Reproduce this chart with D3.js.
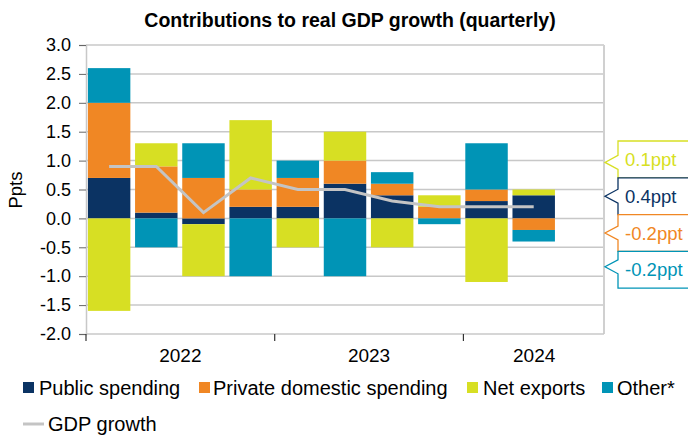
<!DOCTYPE html>
<html><head><meta charset="utf-8">
<script src="https://cdn.jsdelivr.net/npm/d3@7"></script>
<style>
html,body{margin:0;padding:0;background:#fff;}
svg{display:block;font-family:"Liberation Sans",Arial,Helvetica,sans-serif;}
</style></head>
<body>
<svg id="chart" width="688" height="436"></svg>
<script>
// ---- data ----
const quarters = ["2022 Q1","2022 Q2","2022 Q3","2022 Q4","2023 Q1","2023 Q2","2023 Q3","2023 Q4","2024 Q1","2024 Q2","2024 Q3"];
const years = ["2022","2023","2024"];
const yearQuarterCounts = [4, 4, 3];
const publicSpending  = [0.7, 0.1, -0.1, 0.2, 0.2, 0.6, 0.4, 0.0, 0.3, 0.4];
const privateSpending = [1.3, 0.8, 0.7, 0.3, 0.5, 0.4, 0.2, 0.2, 0.2, -0.2];
const netExports      = [-1.6, 0.4, -0.9, 1.2, -0.5, 0.5, -0.5, 0.2, -1.1, 0.1];
const other           = [0.6, -0.5, 0.6, -1.0, 0.3, -1.0, 0.2, -0.1, 0.8, -0.2];
const gdpGrowth       = [0.9, 0.9, 0.1, 0.7, 0.5, 0.5, 0.3, 0.2, 0.2, 0.2];
const yTicks = [-2.0,-1.5,-1.0,-0.5,0.0,0.5,1.0,1.5,2.0,2.5,3.0];
const seriesNames = ["Public spending","Private domestic spending","Net exports","Other*"];
const seriesColors = ["#0b3363","#f08724","#d7df23","#0094b6"];
const lineName = "GDP growth";
const lineColor = "#c4c4c4";
const calloutLabels = ["0.1ppt","0.4ppt","-0.2ppt","-0.2ppt"];
const calloutColors = ["#d7df23","#0b3363","#f08724","#0094b6"];

// ---- setup ----
const svg = d3.select("#chart");
const L = 86, R = 604, T = 45, B = 334;
const x = d3.scaleBand().domain(quarters).range([L, R]).paddingInner(0.1).paddingOuter(0.04);
const y = d3.scaleLinear().domain([-2, 3]).range([B, T]);

const rows = publicSpending.map((v, i) => ({
  q: quarters[i], s0: publicSpending[i], s1: privateSpending[i], s2: netExports[i], s3: other[i]
}));
const stack = d3.stack().keys(["s0","s1","s2","s3"]).offset(d3.stackOffsetDiverging);
const stacked = stack(rows);

// title
svg.append("text").attr("x", 350).attr("y", 26.5).attr("text-anchor","middle")
  .attr("font-size", 19.5).attr("font-weight","bold").attr("fill","#000")
  .text("Contributions to real GDP growth (quarterly)");

// gridlines
svg.append("g").selectAll("line").data(yTicks.filter(t => t > -2)).join("line")
  .attr("x1", L).attr("x2", R).attr("y1", d => y(d)).attr("y2", d => y(d))
  .attr("stroke", "#c8c8c8").attr("stroke-width", 1.5);
// frame right & bottom
svg.append("line").attr("x1", R).attr("x2", R).attr("y1", T).attr("y2", B)
  .attr("stroke", "#d0d0d0").attr("stroke-width", 2);
svg.append("line").attr("x1", L).attr("x2", R).attr("y1", B).attr("y2", B)
  .attr("stroke", "#c8c8c8").attr("stroke-width", 1.5);

// bars
svg.append("g").selectAll("g").data(stacked).join("g")
  .attr("fill", (d, i) => seriesColors[i])
  .selectAll("rect").data(d => d).join("rect")
  .attr("x", d => x(d.data.q)).attr("width", x.bandwidth())
  .attr("y", d => y(Math.max(d[0], d[1])))
  .attr("height", d => Math.abs(y(d[0]) - y(d[1])));

// GDP line
const line = d3.line().x((d, i) => x(quarters[i]) + x.bandwidth() / 2).y(d => y(d));
svg.append("path").datum(gdpGrowth).attr("d", line).attr("fill","none")
  .attr("stroke", lineColor).attr("stroke-width", 3);

// y axis
const fmt = d3.format(".1f");
const yAxis = d3.axisLeft(y).tickValues(yTicks).tickFormat(d => fmt(d).replace("\u2212", "-")).tickSize(7).tickPadding(8);
const gy = svg.append("g").attr("transform", `translate(${L},0)`).call(yAxis);
gy.select(".domain").attr("stroke", "#c8c8c8").attr("stroke-width", 1.5);
gy.selectAll(".tick line").attr("stroke", "#666");
gy.selectAll(".tick text").attr("font-size", 18).attr("fill", "#000")
  .attr("font-family", "Liberation Sans, Arial, sans-serif");

// x axis (years)
const yearCenters = yearQuarterCounts.map((c, i) => {
  const start = yearQuarterCounts.slice(0, i).reduce((a, b) => a + b, 0);
  return L + (start + c / 2) * x.step();
});
const tickXs = yearQuarterCounts.slice(0, -1).reduce((arr, c) => { arr.push(arr[arr.length-1] + c * x.step()); return arr; }, [L]);
svg.append("g").selectAll("line").data(tickXs).join("line")
  .attr("x1", d => d).attr("x2", d => d).attr("y1", B).attr("y2", B + 7)
  .attr("stroke", "#333").attr("stroke-width", 1.2);
svg.append("g").selectAll("text").data(years).join("text")
  .attr("x", (d, i) => yearCenters[i]).attr("y", 362).attr("text-anchor","middle")
  .attr("font-size", 19).attr("fill","#000").text(d => d);

// y label
svg.append("text").attr("transform", "translate(22,190) rotate(-90)").attr("text-anchor","middle")
  .attr("font-size", 18.5).attr("fill","#000").text("Ppts");

// callouts
const boxTop = 141, boxH = 36.8, tipX = 605, boxL = 618;
calloutLabels.forEach((lab, i) => {
  const t = boxTop + i * boxH, b = t + boxH, c = (t + b) / 2 + (i === 0 ? 3 : (i === 3 ? -3 : 0));
  const p = d3.path();
  p.moveTo(692, t); p.lineTo(boxL, t); p.lineTo(boxL, c - 7); p.lineTo(tipX, c);
  p.lineTo(boxL, c + 7); p.lineTo(boxL, b); p.lineTo(692, b);
  svg.append("path").attr("d", p.toString()).attr("fill", "#fff")
    .attr("stroke", calloutColors[i]).attr("stroke-width", 1.3);
  svg.append("text").attr("x", 625).attr("y", (t + b) / 2 + 6.5)
    .attr("font-size", 18.5).attr("fill", calloutColors[i]).text(lab);
});

// legend
const legX = [23, 199, 467, 602];
const legTX = [39, 213, 483, 617];
seriesNames.forEach((n, i) => {
  svg.append("rect").attr("x", legX[i]).attr("y", 382).attr("width", 11).attr("height", 11)
    .attr("fill", seriesColors[i]);
  svg.append("text").attr("x", legTX[i]).attr("y", 394.5).attr("font-size", 20)
    .attr("fill","#000").text(n);
});
svg.append("line").attr("x1", 23).attr("x2", 44).attr("y1", 424).attr("y2", 424)
  .attr("stroke", lineColor).attr("stroke-width", 3);
svg.append("text").attr("x", 48).attr("y", 431).attr("font-size", 20).attr("fill","#000").text(lineName);
</script>
</body></html>
